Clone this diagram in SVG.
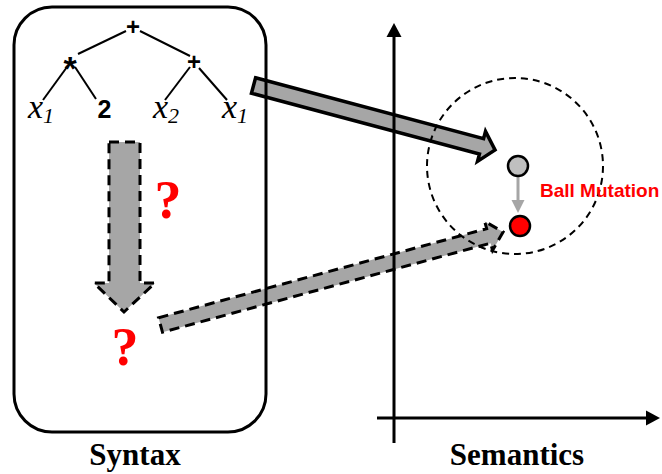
<svg xmlns="http://www.w3.org/2000/svg" width="662" height="474" viewBox="0 0 662 474">
<style>
.big{fill:#a6a6a6;stroke:#000;stroke-width:3.5;stroke-linejoin:miter}
.dash{fill:#a6a6a6;stroke:#000;stroke-width:3;stroke-dasharray:10 6;stroke-linejoin:miter}
.edge{stroke:#000;stroke-width:2;fill:none}
.leaf{font-family:"Liberation Serif",serif;font-style:italic;font-size:34px;fill:#000}
.sub{font-family:"Liberation Serif",serif;font-style:italic;font-size:22px;fill:#000}
.op{font-family:"Liberation Sans",sans-serif;font-weight:bold;fill:#000;text-anchor:middle}
.q{font-family:"Liberation Serif",serif;font-weight:bold;font-size:54px;fill:#ff0000;text-anchor:middle}
.title{font-family:"Liberation Serif",serif;font-weight:bold;font-size:31px;fill:#000;text-anchor:middle}
.axis{stroke:#000;stroke-width:3;fill:none}
</style>
<rect width="662" height="474" fill="#fff"/>
<g id="connectors">
  <polygon class="big" transform="translate(253.5,85.5) rotate(14.95)" points="0,-8 236,-8 236,-15.5 250,0 236,15.5 236,8 0,8"/>
  <polygon class="dash" transform="translate(160.5,325) rotate(-15.19)" points="0,-7.5 340,-7.5 340,-15 355,0 340,15 340,7.5 0,7.5"/>
  <polygon class="dash" points="109,142 140,142 140,283 155,283 124,312 94,283 109,283"/>
  <line x1="518" y1="177" x2="518" y2="201" stroke="#a6a6a6" stroke-width="3"/>
  <polygon points="511.5,200 524.5,200 518,213" fill="#a6a6a6"/>
</g>
<g id="syntax-box">
  <rect x="14" y="7" width="252" height="425" rx="38" ry="38" fill="none" stroke="#000" stroke-width="3"/>
</g>
<g id="tree">
  <line class="edge" x1="126" y1="31" x2="78" y2="54"/>
  <line class="edge" x1="140" y1="31" x2="190" y2="56"/>
  <line class="edge" x1="67" y1="67" x2="43" y2="100"/>
  <line class="edge" x1="75" y1="67" x2="96" y2="99"/>
  <line class="edge" x1="190" y1="67" x2="165" y2="100"/>
  <line class="edge" x1="199" y1="68" x2="227" y2="100"/>
  <text class="op" x="133" y="34.5" font-size="24">+</text>
  <text class="op" x="70" y="80" font-size="34">*</text>
  <text class="op" x="194" y="69.5" font-size="24">+</text>
  <text class="leaf" x="28" y="118">x<tspan class="sub" dy="5">1</tspan></text>
  <text x="104.5" y="118" font-family="Liberation Sans, sans-serif" font-weight="bold" font-size="25" text-anchor="middle">2</text>
  <text class="leaf" x="153" y="118">x<tspan class="sub" dy="5">2</tspan></text>
  <text class="leaf" x="222" y="118">x<tspan class="sub" dy="5">1</tspan></text>
</g>
<g id="question-1"><text class="q" x="168" y="218">?</text></g>
<g id="question-2"><text class="q" x="125" y="365">?</text></g>
<g id="axes">
  <line class="axis" x1="394" y1="443" x2="394" y2="36"/>
  <polygon points="386.5,37 401.5,37 394,23" fill="#000"/>
  <line class="axis" x1="377" y1="418" x2="648" y2="418"/>
  <polygon points="646,410.5 646,425.5 660,418" fill="#000"/>
</g>
<g id="ball">
  <circle cx="515" cy="166" r="88" fill="none" stroke="#000" stroke-width="2" stroke-dasharray="7 5"/>
</g>
<g id="point-gray"><circle cx="518" cy="166" r="10" fill="#bfbfbf" stroke="#000" stroke-width="2.5"/></g>
<g id="point-red"><circle cx="520" cy="226" r="10" fill="#ff0000" stroke="#000" stroke-width="2.5"/></g>
<g id="label-ball"><text x="540" y="197" font-family="Liberation Sans, sans-serif" font-weight="bold" font-size="19" fill="#ff0000">Ball Mutation</text></g>
<g id="label-syntax"><text class="title" x="135" y="465">Syntax</text></g>
<g id="label-semantics"><text class="title" x="517" y="465">Semantics</text></g>
</svg>
